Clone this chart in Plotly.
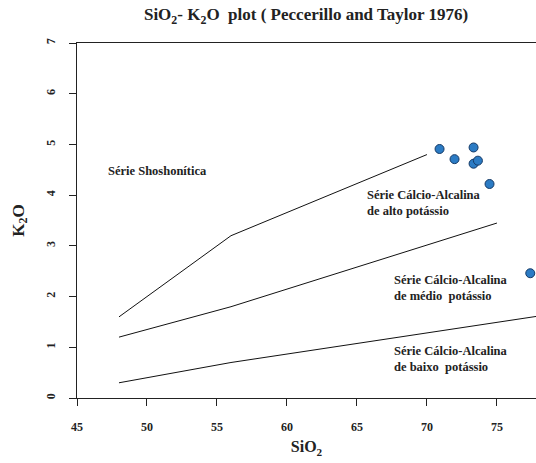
import plotly.graph_objects as go

# Boundary lines (Peccerillo and Taylor 1976)
shosho_x = [48, 56, 70]
shosho_y = [1.6, 3.2, 4.8]
highk_x = [48, 56, 75]
highk_y = [1.2, 1.8, 3.45]
lowk_x = [48, 56, 80]
lowk_y = [0.3, 0.7, 1.7]

# Samples
sio2 = [70.9, 73.33, 71.97, 73.33, 73.64, 74.47, 77.38]
k2o = [4.91, 4.94, 4.71, 4.62, 4.68, 4.22, 2.46]

x_ticks = [45, 50, 55, 60, 65, 70, 75]
y_ticks = [0, 1, 2, 3, 4, 5, 6, 7]

# Field labels
label_x = [47.07, 65.6, 67.5, 67.5]
label_y = [4.47, 3.84, 2.16, 0.76]
label_text = ["Série Shoshonítica",
              "Série Cálcio-Alcalina<br>de alto potássio",
              "Série Cálcio-Alcalina<br>de médio  potássio",
              "Série Cálcio-Alcalina<br>de baixo  potássio"]

FONT = "Liberation Serif, Times New Roman, DejaVu Serif, serif"

fig = go.Figure()
for xs, ys in [(shosho_x, shosho_y), (highk_x, highk_y), (lowk_x, lowk_y)]:
    fig.add_trace(go.Scatter(x=xs, y=ys, mode="lines",
                             line=dict(color="#111111", width=1),
                             hoverinfo="skip", showlegend=False))

fig.add_trace(go.Scatter(x=sio2, y=k2o, mode="markers",
                         marker=dict(symbol="circle", size=9, color="#2b7bc4",
                                     line=dict(color="#163a66", width=1)),
                         showlegend=False, cliponaxis=False))

for lx, ly, txt in zip(label_x, label_y, label_text):
    fig.add_annotation(x=lx, y=ly, text=f"<b>{txt}</b>", showarrow=False,
                       xanchor="left", yanchor="middle", align="left",
                       font=dict(family=FONT, size=12.5, color="#222222"))

axis_font = dict(family=FONT, size=12, color="#222222")
fig.update_layout(
    width=536, height=463,
    margin=dict(l=77, r=0, t=43, b=65),
    paper_bgcolor="white", plot_bgcolor="white",
    title=dict(text="<b>SiO<sub>2</sub>- K<sub>2</sub>O  plot ( Peccerillo and Taylor 1976)</b>",
               x=0.571, xanchor="center", y=0.969, yanchor="middle",
               font=dict(family=FONT, size=17, color="#222222")),
    xaxis=dict(range=[45, 77.79], tickvals=x_ticks, ticktext=[f"<b>{v}</b>" for v in x_ticks],
               showgrid=False, zeroline=False, showline=True, linecolor="#222222",
               linewidth=1.3, mirror=True, ticks="outside", ticklen=7, tickwidth=1,
               tickcolor="#222222", tickfont=axis_font, ticklabelstandoff=10,
               title=dict(text="<b>SiO<sub>2</sub></b>", standoff=8,
                          font=dict(family=FONT, size=16, color="#222222"))),
    yaxis=dict(range=[0, 7], tickvals=y_ticks, ticktext=[f"<b>{v}</b>" for v in y_ticks],
               showgrid=False, zeroline=False, showline=True, linecolor="#222222",
               linewidth=1.3, mirror=False, ticks="outside", ticklen=7, tickwidth=1,
               tickcolor="#222222", tickfont=axis_font, tickangle=-90,
               ticklabelstandoff=9,
               title=dict(text="<b>K<sub>2</sub>O</b>", standoff=15,
                          font=dict(family=FONT, size=17, color="#222222"))),
)

fig.write_html("out.html", config={"displayModeBar": False},
               post_script="document.body.style.margin='0';document.body.style.overflow='hidden';")
